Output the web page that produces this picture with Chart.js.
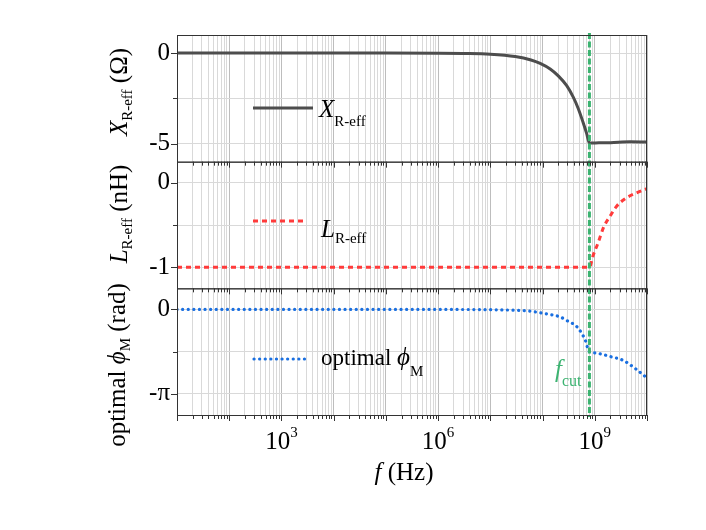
<!DOCTYPE html>
<html>
<head>
<meta charset="utf-8">
<script src="https://cdn.jsdelivr.net/npm/chart.js@4.4.1/dist/chart.umd.min.js"></script>
<style>
  html, body { margin: 0; padding: 0; background: #fff; }
  #wrap { width: 706px; height: 530px; }
</style>
</head>
<body>
<div id="wrap"><canvas id="chart" width="706" height="530"></canvas></div>
<script>
// values
const FREQ_X = [10, 1e3, 1e5, 1e6, 3e6, 1e7, 3e7, 6e7, 9e7, 1.4e8, 2e8, 2.9e8, 3.85e8, 4.8e8, 6e8, 7e8, 7.9e8, 1.2e9, 2e9, 4.7e9, 1e10];
const X_REFF = [0, 0, 0, -0.006, -0.02, -0.06, -0.19, -0.38, -0.57, -0.88, -1.26, -1.8, -2.42, -3.05, -3.85, -4.45, -4.97, -4.96, -4.95, -4.9, -4.92];

const FREQ_L = [10, 1e3, 1e6, 1e8, 7.9e8, 9.3e8, 1.16e9, 1.49e9, 1.94e9, 2.6e9, 4.0e9, 6.3e9, 1e10];
const L_REFF = [-1, -1, -1, -1, -1, -0.86, -0.71, -0.52, -0.40, -0.28, -0.18, -0.12, -0.07];

const FREQ_PHI = [10, 1e3, 1e5, 1e6, 1e7, 3e7, 5.7e7, 8.9e7, 1.38e8, 2.14e8, 3.08e8, 4.47e8, 5.56e8, 6.7e8, 7.4e8, 7.9e8, 8.6e8, 1.24e9, 1.94e9, 3.48e9, 5.8e9, 1e10];
const PHI_M = [0, 0, 0, 0, -0.01, -0.03, -0.063, -0.123, -0.188, -0.273, -0.437, -0.628, -0.873, -1.184, -1.47, -1.571, -1.596, -1.646, -1.747, -1.894, -2.18, -2.554];

const F_CUT = 7.9e8;

const Y1_TICKS = [0, -2.5, -5];
const Y1_LABELS = ['0', '', '-5'];
const Y2_TICKS = [0, -0.5, -1];
const Y2_LABELS = ['0', '', '-1'];
const Y3_TICKS = [0, -Math.PI / 2, -Math.PI];
const Y3_LABELS = ['0', '', '-\u03c0'];
const X_LABEL_EXPONENTS = [3, 6, 9];

const SERIF = "'Liberation Serif', 'Times New Roman', serif";
const GRAY = '#4d4d4d', RED = '#ff3b3b', BLUE = '#1a6fe0', GREEN = '#3cb371';

// log grid: 1..9 x 10^n between 10 and 1e10
const xGrid = [];
for (let e = 1; e < 10; e++) for (let m = 1; m < 10; m++) xGrid.push(m * Math.pow(10, e));
xGrid.push(1e10);

function pts(xs, ys) { return xs.map((x, i) => ({ x, y: ys[i] })); }

function yScale(min, max, ticks, labels) {
  return {
    type: 'linear', position: 'left', stack: 'panels', stackWeight: 1,
    min, max,
    afterBuildTicks: s => { s.ticks = ticks.map(v => ({ value: v })); },
    afterFit: s => { s.width = 177; },
    border: { display: false },
    grid: { color: '#d9d9d9', drawTicks: false, lineWidth: 1 },
    ticks: {
      padding: 7, color: '#000', font: { family: SERIF, size: 25 },
      callback: (v, i) => labels[i]
    }
  };
}

function drawRich(ctx, x, y, parts) {
  let cx = x;
  for (const p of parts) {
    ctx.font = p.font;
    ctx.fillStyle = p.color || '#000';
    ctx.fillText(p.text, cx, y + (p.dy || 0));
    cx += ctx.measureText(p.text).width;
  }
  return cx - x;
}
function richWidth(ctx, parts) {
  let w = 0;
  for (const p of parts) { ctx.font = p.font; w += ctx.measureText(p.text).width; }
  return w;
}

const big = `25px ${SERIF}`, bigIt = `italic 25px ${SERIF}`, sub = `15px ${SERIF}`;

const panelPlugin = {
  id: 'panels',
  afterDatasetsDraw(chart) {
    const { ctx, chartArea: a, scales } = chart;
    const xs = scales.x;
    ctx.save();
    // cut-off frequency
    const xc = xs.getPixelForValue(F_CUT);
    ctx.strokeStyle = GREEN; ctx.lineWidth = 3; ctx.setLineDash([6, 2.5]);
    ctx.beginPath(); ctx.moveTo(xc, a.top - 2); ctx.lineTo(xc, a.bottom + 2); ctx.stroke();
    ctx.setLineDash([]);

    // frames + tick marks for each panel
    ctx.strokeStyle = '#333'; ctx.lineWidth = 1;
    for (const id of ['y1', 'y2', 'y3']) {
      const ys = scales[id];
      ctx.strokeRect(a.left + 0.5, ys.top + 0.5, a.right - a.left - 1, ys.bottom - ys.top);
      ctx.beginPath();
      for (const v of xGrid) {
        const px = Math.round(xs.getPixelForValue(v)) + 0.5;
        const major = Math.abs(Math.log10(v) % 1) < 1e-9;
        ctx.moveTo(px, ys.bottom); ctx.lineTo(px, ys.bottom + (major ? 6 : 4));
      }
      ys.ticks.forEach((t, i) => {
        const py = Math.round(ys.getPixelForValue(t.value)) + 0.5;
        ctx.moveTo(a.left, py); ctx.lineTo(a.left - (i % 2 ? 4 : 6), py);
      });
      ctx.stroke();
    }
    ctx.restore();
  },
  afterDraw(chart) {
    const { ctx, scales } = chart;
    const xs = scales.x;
    ctx.save();
    ctx.textBaseline = 'alphabetic'; ctx.textAlign = 'left';

    // x tick labels
    for (const e of X_LABEL_EXPONENTS) {
      const parts = [{ text: '10', font: big }, { text: String(e), font: sub, dy: -12 }];
      const w = richWidth(ctx, parts);
      drawRich(ctx, xs.getPixelForValue(Math.pow(10, e)) - w / 2, 449, parts);
    }
    const xt = [{ text: 'f', font: bigIt }, { text: ' (Hz)', font: big }];
    drawRich(ctx, 404 - richWidth(ctx, xt) / 2, 480, xt);

    // rotated y titles
    const titles = [
      { x: 127, y: 92, parts: [{ text: 'X', font: bigIt }, { text: 'R-eff', font: sub, dy: 5 }, { text: ' (\u03a9)', font: big }] },
      { x: 127, y: 214, parts: [{ text: 'L', font: bigIt }, { text: 'R-eff', font: sub, dy: 5 }, { text: ' (nH)', font: big }] },
      { x: 125, y: 365, parts: [{ text: 'optimal ', font: big }, { text: '\u03d5', font: bigIt }, { text: 'M', font: sub, dy: 5 }, { text: ' (rad)', font: big }] }
    ];
    for (const t of titles) {
      ctx.save();
      ctx.translate(t.x, t.y); ctx.rotate(-Math.PI / 2);
      drawRich(ctx, -richWidth(ctx, t.parts) / 2, 0, t.parts);
      ctx.restore();
    }

    // legends
    ctx.lineWidth = 3;
    ctx.strokeStyle = GRAY;
    ctx.beginPath(); ctx.moveTo(253, 108); ctx.lineTo(313, 108); ctx.stroke();
    drawRich(ctx, 319, 117, [{ text: 'X', font: bigIt }, { text: 'R-eff', font: sub, dy: 9 }]);

    ctx.strokeStyle = RED; ctx.setLineDash([5, 4]);
    ctx.beginPath(); ctx.moveTo(253, 221); ctx.lineTo(304, 221); ctx.stroke();
    drawRich(ctx, 321, 237, [{ text: 'L', font: bigIt }, { text: 'R-eff', font: sub, dy: 6 }]);

    ctx.strokeStyle = BLUE; ctx.lineWidth = 3.2; ctx.lineCap = 'round'; ctx.setLineDash([0.1, 5.5]);
    ctx.beginPath(); ctx.moveTo(254, 359); ctx.lineTo(308, 359); ctx.stroke();
    ctx.setLineDash([]); ctx.lineCap = 'butt';
    drawRich(ctx, 321, 365, [{ text: 'optimal ', font: `23px ${SERIF}` }, { text: '\u03d5', font: bigIt }, { text: 'M', font: sub, dy: 11 }]);

    // f_cut label
    drawRich(ctx, 555, 377, [{ text: 'f', font: bigIt, color: GREEN }, { text: 'cut', font: `16px ${SERIF}`, color: GREEN, dy: 9 }]);
    ctx.restore();
  }
};

new Chart(document.getElementById('chart'), {
  type: 'line',
  data: {
    datasets: [
      { label: 'X_R-eff', data: pts(FREQ_X, X_REFF), yAxisID: 'y1', borderColor: GRAY, borderWidth: 3,
        pointRadius: 0, cubicInterpolationMode: 'monotone' },
      { label: 'L_R-eff', data: pts(FREQ_L, L_REFF), yAxisID: 'y2', borderColor: RED, borderWidth: 3,
        borderDash: [5, 4], pointRadius: 0, cubicInterpolationMode: 'monotone' },
      { label: 'optimal phi_M', data: pts(FREQ_PHI, PHI_M), yAxisID: 'y3', borderColor: BLUE, borderWidth: 3.2,
        borderDash: [0.1, 5.5], borderCapStyle: 'round', pointRadius: 0, cubicInterpolationMode: 'monotone' }
    ]
  },
  options: {
    responsive: false, animation: false, devicePixelRatio: 1,
    layout: { padding: { top: 35, right: 59, left: 0, bottom: 0 } },
    plugins: { legend: { display: false }, tooltip: { enabled: false } },
    scales: {
      x: {
        type: 'logarithmic', min: 10, max: 1e10,
        afterBuildTicks: s => { s.ticks = xGrid.map(v => ({ value: v, major: Math.abs(Math.log10(v) % 1) < 1e-9 })); },
        afterFit: s => { s.height = 115; },
        border: { display: false },
        grid: { drawTicks: false, color: c => (c.tick && c.tick.major) ? '#bdbdbd' : '#d9d9d9' },
        ticks: { display: false, autoSkip: false }
      },
      y3: yScale(-1.25 * Math.PI, 0.25 * Math.PI, Y3_TICKS, Y3_LABELS),
      y2: yScale(-1.25, 0.25, Y2_TICKS, Y2_LABELS),
      y1: yScale(-6, 1, Y1_TICKS, Y1_LABELS)
    }
  },
  plugins: [panelPlugin]
});
</script>
</body>
</html>
